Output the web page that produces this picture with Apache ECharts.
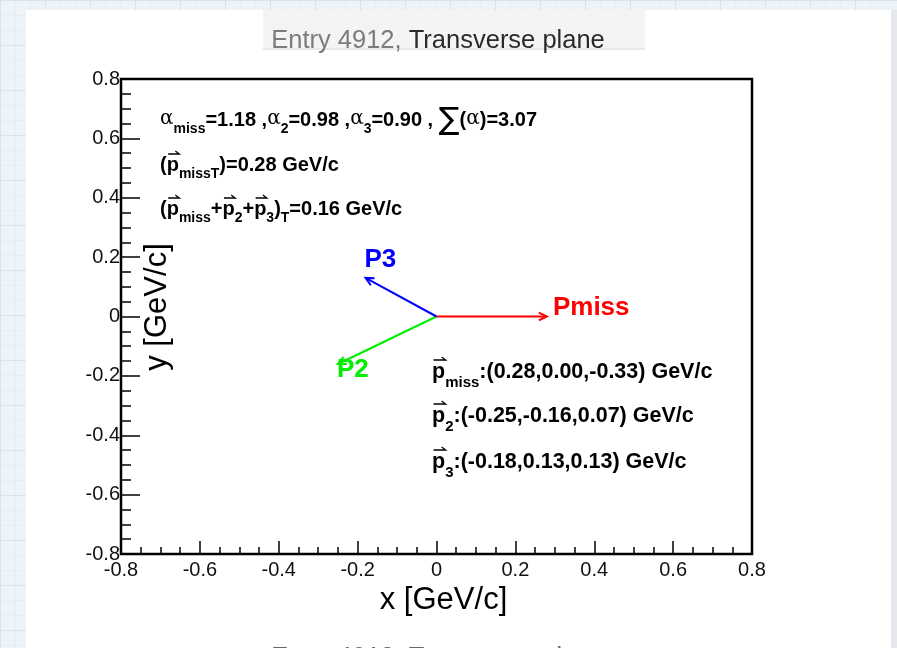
<!DOCTYPE html>
<html>
<head>
<meta charset="utf-8">
<script src="https://cdn.jsdelivr.net/npm/echarts@6/dist/echarts.min.js"></script>
<style>
  html, body { margin: 0; padding: 0; }
  body {
    width: 897px; height: 648px; overflow: hidden;
    background-color: #eef3f7;
    background-image:
      linear-gradient(#d8e3ec 1px, transparent 1px),
      linear-gradient(90deg, #d8e3ec 1px, transparent 1px),
      linear-gradient(#e6edf3 1px, transparent 1px),
      linear-gradient(90deg, #e6edf3 1px, transparent 1px);
    background-size: 45px 45px, 45px 45px, 15px 15px, 15px 15px;
  }
  #chart { width: 897px; height: 648px; }
</style>
</head>
<body>
<div id="chart"></div>
<script>
// Momentum vectors of the event (GeV/c)
const vecNames = ['Pmiss', 'P2', 'P3'];
const vecSubs = ['miss', '2', '3'];
const vecX = [0.28, -0.25, -0.18];
const vecY = [0.00, -0.16, 0.13];
const vecZ = [-0.33, 0.07, 0.13];

// Summary quantities
const alphaVals = [1.18, 0.98, 0.90];
const alphaSum = 3.07;
const ptMiss = 0.28;
const ptTotal = 0.16;

// Axis range
const axisMin = -0.8;
const axisMax = 0.8;
const axisStep = 0.2;

const titleText = 'Entry 4912, Transverse plane';

// Styling
const vecColors = { Pmiss: '#ff0000', P2: '#00ee00', P3: '#0000ff' };
const labelOffsets = { Pmiss: [6, -9], P2: [-1, 6], P3: [-1, -18] };
const FONT = '"Liberation Sans", Arial, Helvetica, sans-serif';

const f2 = v => v.toFixed(2);

// Token styles for the formula-like annotations (lower-case: upper block, upper-case: component block)
// dy: vertical shift of the token, arrowDy: height of the vector arrow above a 'p'
const tokenStyles = {
  m:   { family: FONT, weight: 'bold', size: 20, dy: 0, arrowDy: -11 },
  s:   { family: FONT, weight: 'bold', size: 14, dy: 9 },
  M:   { family: FONT, weight: 'bold', size: 21.5, dy: 0, arrowDy: -12 },
  S:   { family: FONT, weight: 'bold', size: 15, dy: 11 },
  g:   { family: '"DejaVu Serif", "Liberation Serif", serif', weight: 'normal', size: 20, dy: -1 },
  sum: { family: '"DejaVu Sans", sans-serif', weight: 'normal', size: 31, dy: 1 }
};

const measureCtx = document.createElement('canvas').getContext('2d');
function fontOf(st) { return `${st.weight} ${st.size}px ${st.family}`; }
function tokenWidth(st, text) {
  measureCtx.font = fontOf(st);
  return measureCtx.measureText(text).width;
}

// Lays out one annotation line token by token; 'v'/'V' tokens get an arrow on top
function formulaLine(tokens, x, y) {
  let cursor = x;
  const out = [];
  tokens.forEach(([key, str]) => {
    const isVec = key === 'v' || key === 'V';
    const st = tokenStyles[key === 'v' ? 'm' : key === 'V' ? 'M' : key];
    const w = tokenWidth(st, str);
    out.push({
      type: 'text', x: cursor, y: y + st.dy, z: 10,
      style: {
        text: str, fill: '#000', fontFamily: st.family, fontWeight: st.weight, fontSize: st.size,
        align: 'left', verticalAlign: 'middle'
      }
    });
    if (isVec) {
      const ay = y + st.arrowDy;
      const x0 = cursor + 1.5, x1 = cursor + w + 0.5;
      out.push({
        type: 'polyline', z: 11,
        shape: { points: [[x0, ay], [x1, ay], [x1 - 4, ay - 3]] },
        style: { stroke: '#000', lineWidth: 1.3, fill: null }
      });
    }
    cursor += w;
  });
  return out;
}

const line1 = [
  ['g', 'α'], ['s', 'miss'], ['m', `=${f2(alphaVals[0])} ,`],
  ['g', 'α'], ['s', '2'], ['m', `=${f2(alphaVals[1])} ,`],
  ['g', 'α'], ['s', '3'], ['m', `=${f2(alphaVals[2])} , `],
  ['sum', '∑'], ['m', '('], ['g', 'α'], ['m', `)=${f2(alphaSum)}`]
];
const line2 = [['m', '('], ['v', 'p'], ['s', 'missT'], ['m', `)=${f2(ptMiss)} GeV/c`]];
const line3 = [
  ['m', '('], ['v', 'p'], ['s', 'miss'], ['m', '+'], ['v', 'p'], ['s', '2'],
  ['m', '+'], ['v', 'p'], ['s', '3'], ['m', ')'], ['s', 'T'], ['m', `=${f2(ptTotal)} GeV/c`]
];
const compLines = vecNames.map((n, i) => [
  ['V', 'p'], ['S', vecSubs[i]],
  ['M', `:(${f2(vecX[i])},${f2(vecY[i])},${f2(vecZ[i])}) GeV/c`]
]);

const graphics = [
  // page panel
  { type: 'rect', shape: { x: 26, y: 10, width: 865, height: 660 }, style: { fill: '#ffffff' }, z: -10 },
  { type: 'rect', shape: { x: 891, y: 10, width: 6, height: 660 }, style: { fill: '#e3e8ec' }, z: -10 },
  // title box
  { type: 'rect', shape: { x: 263, y: 10, width: 382, height: 39 }, style: { fill: '#f4f4f4' }, z: -9 },
  { type: 'rect', shape: { x: 263, y: 48, width: 382, height: 2 }, style: { fill: '#e8e8e8' }, z: -9 },
  {
    type: 'text', x: 438, y: 41, z: 5,
    style: {
      text: '{a|Entry 4912, }{b|Transverse plane}', align: 'center', verticalAlign: 'middle',
      rich: {
        a: { fontFamily: FONT, fontSize: 25.5, fill: '#7c7c7c' },
        b: { fontFamily: FONT, fontSize: 25.5, fill: '#2a2a2a' }
      }
    }
  },
  // next page heading, almost entirely below the visible area
  {
    type: 'text', x: 438, y: 658, z: 5,
    style: { text: titleText, align: 'center', verticalAlign: 'middle', fontFamily: FONT, fontSize: 25.5, fill: '#666' }
  },
  // y axis title
  {
    type: 'text', x: 157, y: 307, rotation: Math.PI / 2, z: 5,
    style: { text: 'y [GeV/c]', align: 'center', verticalAlign: 'middle', fontFamily: FONT, fontSize: 31, fill: '#000' }
  }
].concat(
  formulaLine(line1, 160, 120),
  formulaLine(line2, 160, 165),
  formulaLine(line3, 160, 209),
  formulaLine(compLines[0], 432, 372),
  formulaLine(compLines[1], 432, 416),
  formulaLine(compLines[2], 432, 462)
);

const chart = echarts.init(document.getElementById('chart'), null, { renderer: 'canvas' });

const axisCommon = {
  type: 'value',
  min: axisMin,
  max: axisMax,
  interval: axisStep,
  splitLine: { show: false },
  axisLine: { show: true, onZero: false, lineStyle: { color: '#000', width: 2 } },
  axisLabel: {
    fontFamily: FONT, fontSize: 20, color: '#111',
    formatter: v => String(+v.toFixed(1))
  }
};

chart.setOption({
  backgroundColor: 'transparent',
  animation: false,
  graphic: graphics,
  grid: {
    left: 121, top: 79, width: 631, height: 475,
    show: true, borderColor: '#000', borderWidth: 2.5, backgroundColor: '#fff'
  },
  xAxis: Object.assign({}, axisCommon, {
    name: 'x [GeV/c]',
    nameLocation: 'middle',
    nameGap: 31,
    nameTextStyle: { fontFamily: FONT, fontSize: 31, color: '#000', padding: [0, 0, 0, 14] },
    axisTick: { show: true, inside: true, length: 13, lineStyle: { color: '#000', width: 1.5 } },
    minorTick: { show: true, splitNumber: 4, length: 7, lineStyle: { color: '#000', width: 1.5 } },
    axisLabel: Object.assign({}, axisCommon.axisLabel, { margin: 6 })
  }),
  yAxis: Object.assign({}, axisCommon, {
    axisTick: { show: true, inside: true, length: 19, lineStyle: { color: '#000', width: 1.5 } },
    minorTick: { show: true, splitNumber: 4, length: 10, lineStyle: { color: '#000', width: 1.5 } },
    axisLabel: Object.assign({}, axisCommon.axisLabel, { margin: 1 })
  }),
  series: [{
    type: 'custom',
    coordinateSystem: 'cartesian2d',
    data: vecNames.map((n, i) => ({ name: n, value: [vecX[i], vecY[i]] })),
    renderItem: function (params, api) {
      const name = vecNames[params.dataIndex];
      const color = vecColors[name];
      const off = labelOffsets[name];
      const o = api.coord([0, 0]);
      const e = api.coord([api.value(0), api.value(1)]);
      const ang = Math.atan2(e[1] - o[1], e[0] - o[0]);
      const L = 9, W = 0.45;
      const h1 = [e[0] - L * Math.cos(ang - W), e[1] - L * Math.sin(ang - W)];
      const h2 = [e[0] - L * Math.cos(ang + W), e[1] - L * Math.sin(ang + W)];
      return {
        type: 'group',
        children: [
          { type: 'line', shape: { x1: o[0], y1: o[1], x2: e[0], y2: e[1] }, style: { stroke: color, lineWidth: 2 } },
          { type: 'polyline', shape: { points: [h1, e, h2] }, style: { stroke: color, lineWidth: 2, fill: null } },
          {
            type: 'text', x: e[0] + off[0], y: e[1] + off[1],
            style: { text: name, fill: color, fontFamily: FONT, fontWeight: 'bold', fontSize: 26, align: 'left', verticalAlign: 'middle' }
          }
        ]
      };
    }
  }]
});
</script>
</body>
</html>
